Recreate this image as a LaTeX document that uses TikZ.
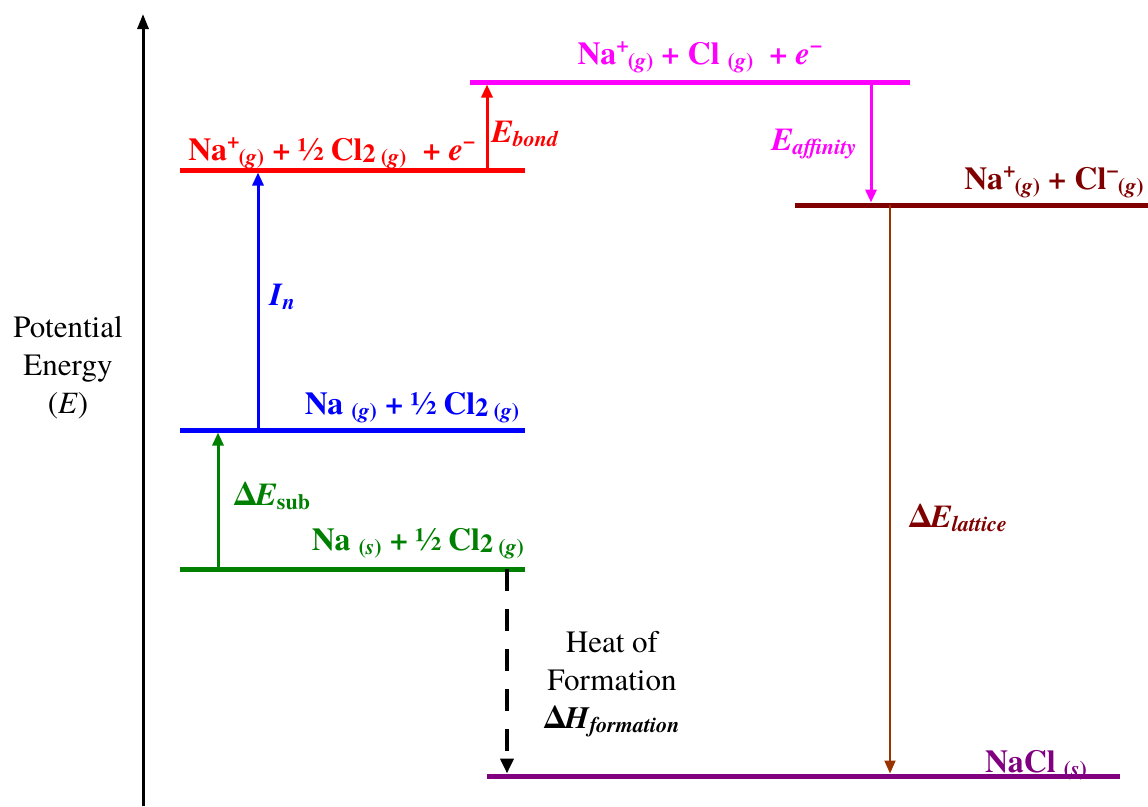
\documentclass[tikz,border=0pt]{standalone}
\usepackage{fontspec}
\setmainfont{texgyretermes}[Extension=.otf,UprightFont=*-regular,BoldFont=*-bold,ItalicFont=*-italic,BoldItalicFont=*-bolditalic]
\usetikzlibrary{arrows.meta}
\definecolor{lvred}{HTML}{FF0000}
\definecolor{lvmag}{HTML}{FF00FF}
\definecolor{lvmaroon}{HTML}{800000}
\definecolor{lvblue}{HTML}{0000FF}
\definecolor{lvgreen}{HTML}{008000}
\definecolor{lvpurple}{HTML}{800080}
\definecolor{lvbrown}{HTML}{993300}
\newcommand\sbs[1]{\raisebox{-4pt}{\fontsize{22}{22}\selectfont #1}}
\newcommand\sps[1]{\raisebox{12pt}{\fontsize{22}{22}\selectfont #1}}
\newcommand\ionsub[2]{\sps{#1}\kern-1pt\sbs{#2}}
\newcommand\cltwo{Cl\raisebox{-2pt}{\fontsize{26}{26}\selectfont 2}\,\sbs{(\textit{g})}}

\begin{document}
\begin{tikzpicture}[x=1pt,y=-1pt,
  enline/.style={line width=5pt},
  lbl/.style={font=\fontsize{32}{36}\selectfont\bfseries,anchor=base},
  txt/.style={font=\fontsize{31}{38}\selectfont,align=center,anchor=base,inner sep=0pt},
  jump/.style={line width=3pt,-{Triangle[length=13pt,width=11pt]},shorten >=2.5pt}]
\useasboundingbox (0,0) rectangle (1148,806);
% energy axis
\coordinate (ax0) at (143,806);\coordinate (ax1) at (143,14);
\draw[line width=3pt,-{Triangle[length=15pt,width=11pt]}] (ax0)--(ax1);
\node[txt] (axlbl) at (68,413){Potential\\Energy\\(\textit{E})};
% levels
\foreach \n/\xa/\xb/\y/\c in {red/180/525/170/lvred,mag/470/910/82/lvmag,mar/795/1148/205/lvmaroon,blu/180/525/430/lvblue,grn/180/525/569/lvgreen,pur/487/1120/776/lvpurple}{\draw[enline,color=\c] (\xa,\y) coordinate (\n L)--(\xb,\y) coordinate (\n R);}
\node[lbl,lvred] (redlbl) at (332,160){Na\ionsub{+}{(\textit{g})} + ½ \cltwo{} \ + \textit{e}\sps{−}};
\node[lbl,lvmag] (maglbl) at (700,64){Na\ionsub{+}{(\textit{g})} + Cl \sbs{(\textit{g})} \ + \textit{e}\sps{−}};
\node[lbl,lvmaroon] (marlbl) at (1054,189){Na\ionsub{+}{(\textit{g})} + Cl\ionsub{−}{(\textit{g})}};
\node[lbl,lvblue] (blulbl) at (412,414){Na \sbs{(\textit{g})} + ½ \cltwo};
\node[lbl,lvgreen] (grnlbl) at (418,550){Na \sbs{(\textit{s})} + ½ \cltwo};
\node[lbl,lvpurple] (purlbl) at (1036,772){NaCl \sbs{(\textit{s})}};
% steps of the cycle
\coordinate (sub0) at (218,569);\coordinate (sub1) at (218,430);
\coordinate (ion0) at (258,430);\coordinate (ion1) at (258,170);
\coordinate (bnd0) at (487,170);\coordinate (bnd1) at (487,82);
\coordinate (aff0) at (871,82);\coordinate (aff1) at (871,205);
\coordinate (lat0) at (890,205);\coordinate (lat1) at (890,776);
\coordinate (frm0) at (507,569);\coordinate (frm1) at (507,776);
\draw[jump,lvgreen] (sub0)--(sub1);\node[lbl,lvgreen,anchor=base west] (sublbl) at (231,505){Δ\textit{E}\sbs{sub}};
\draw[jump,lvblue] (ion0)--(ion1);\node[lbl,lvblue,anchor=base west] (ionlbl) at (266,305){\textit{I}\sbs{\textit{n}}};
\draw[jump,lvred] (bnd0)--(bnd1);\node[lbl,lvred,anchor=base west] (bndlbl) at (488,142){\textit{E}\sbs{\textit{bond}}};
\draw[jump,lvmag] (aff0)--(aff1);\node[lbl,lvmag,anchor=base east] (afflbl) at (860,150){\textit{E}\sbs{\textit{affinity}}};
\draw[jump,lvbrown,line width=2pt] (lat0)--(lat1);\node[lbl,lvmaroon,anchor=base west] (latlbl) at (906,527){Δ\textit{E}\sbs{\textit{lattice}}};
\draw[jump,black,line width=4pt,dash pattern=on 22pt off 18pt,-{Triangle[length=15pt,width=13pt]}] (frm0)--(frm1);
\node[txt] (frmlbl) at (612,728){Heat of\\Formation\\\textbf{Δ\textit{H}\sbs{\textit{formation}}}};
\end{tikzpicture}
\end{document}
